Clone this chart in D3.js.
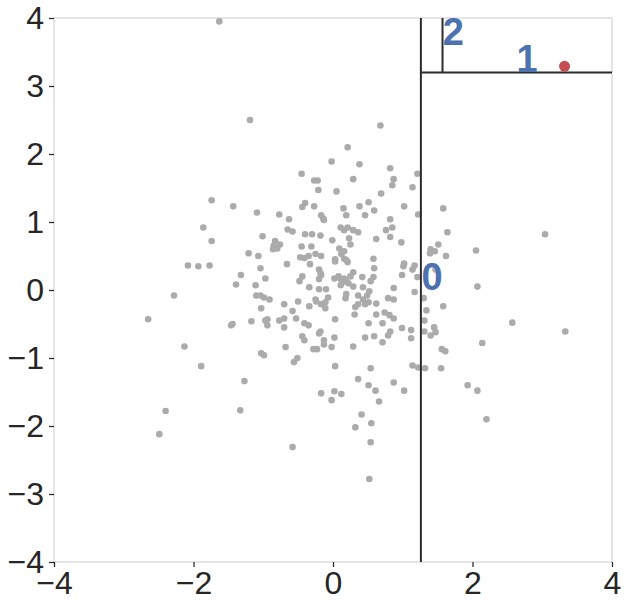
<!DOCTYPE html>
<html>
<head>
<meta charset="utf-8">
<script src="https://cdn.jsdelivr.net/npm/d3@7"></script>
<style>
  body { margin: 0; background: #fff; }
  text { font-family: "Liberation Sans", Arial, sans-serif; }
</style>
</head>
<body>
<div id="chart"></div>
<script>
// scattered sample points (x, y)
var points = [
  [-1.19,2.50],[-1.74,1.32],[-1.43,1.23],[-1.09,1.14],[-0.77,1.11],[-0.63,1.04],[-1.86,0.92],[-0.65,0.89],
  [-1.74,0.72],[-1.01,0.79],[-0.83,0.72],[-0.85,0.65],[-0.76,0.67],[-0.80,0.61],[-0.86,0.60],[-1.21,0.54],
  [-1.07,0.50],[0.68,2.42],[0.21,2.10],[-0.02,1.89],[0.38,1.85],[0.82,1.79],[-0.45,1.71],[1.21,1.71],
  [-0.27,1.61],[-0.22,1.61],[0.29,1.63],[0.87,1.63],[0.85,1.54],[-0.21,1.47],[0.05,1.45],[1.14,1.51],
  [0.69,1.42],[-0.40,1.28],[-0.44,1.22],[-0.27,1.23],[0.38,1.23],[0.51,1.29],[0.15,1.20],[0.59,1.17],
  [1.02,1.23],[-0.17,1.10],[-0.14,1.05],[-0.13,1.03],[0.19,1.10],[0.46,1.10],[1.22,1.11],[0.82,1.04],
  [-0.58,0.86],[0.11,0.92],[0.16,0.88],[0.21,0.92],[0.29,0.88],[0.36,0.85],[0.85,0.92],[0.76,0.88],
  [-0.40,0.82],[-0.30,0.82],[-0.18,0.80],[0.23,0.76],[-0.01,0.73],[0.62,0.75],[0.82,0.78],[0.98,0.70],
  [-0.45,0.64],[-0.31,0.64],[0.25,0.67],[0.09,0.61],[0.16,0.57],[0.12,0.53],[-0.47,0.48],[-0.35,0.50],
  [-0.25,0.53],[-0.17,0.50],[0.03,0.45],[0.16,0.46],[0.58,0.46],[1.40,0.60],[1.46,0.57],[1.39,0.54],
  [1.51,0.67],[-2.08,0.36],[-1.93,0.35],[-1.77,0.36],[-1.04,0.32],[-0.66,0.38],[-1.32,0.22],[-0.97,0.17],
  [-1.39,0.08],[-1.11,0.07],[-2.28,-0.08],[-1.10,-0.08],[-1.04,-0.08],[-0.99,-0.11],[-0.91,-0.14],[-0.70,-0.21],
  [-1.03,-0.27],[-2.65,-0.43],[-1.44,-0.50],[-1.46,-0.52],[-1.17,-0.46],[-0.97,-0.45],[-0.94,-0.43],[-0.94,-0.52],
  [-0.77,-0.45],[-0.70,-0.42],[-0.70,-0.55],[-2.13,-0.83],[-0.68,-0.84],[-1.03,-0.93],[-0.99,-0.96],[-1.89,-1.12],
  [-1.27,-1.34],[-2.40,-1.78],[-1.33,-1.77],[-2.49,-2.12],[-0.41,0.47],[-0.33,0.38],[0.03,0.42],[0.19,0.44],
  [0.21,0.41],[0.59,0.32],[-0.20,0.30],[-0.18,0.25],[-0.17,0.22],[-0.20,0.16],[-0.44,0.20],[-0.48,0.13],
  [0.02,0.17],[0.08,0.20],[0.11,0.16],[0.16,0.17],[0.13,0.11],[0.19,0.13],[0.22,0.10],[0.25,0.20],
  [0.29,0.26],[0.42,0.19],[0.54,0.13],[0.58,0.19],[0.29,0.05],[0.43,0.04],[-0.34,0.04],[-0.20,0.01],
  [-0.10,0.01],[0.11,0.07],[0.52,-0.02],[0.49,-0.08],[0.36,-0.08],[0.43,-0.14],[0.51,-0.18],[0.46,-0.21],
  [0.19,-0.06],[0.18,-0.12],[-0.07,-0.11],[-0.25,-0.14],[-0.24,-0.17],[-0.50,-0.17],[-0.17,-0.21],[-0.11,-0.18],
  [-0.11,-0.27],[-0.34,-0.24],[0.32,-0.25],[0.36,-0.21],[0.62,-0.20],[0.79,-0.12],[0.87,-0.14],[0.87,0.03],
  [1.17,-0.03],[-0.58,-0.31],[0.31,-0.36],[0.62,-0.36],[0.74,-0.33],[0.81,-0.37],[0.87,-0.42],[-0.53,-0.42],
  [0.03,-0.43],[-0.41,-0.49],[-0.35,-0.52],[0.51,-0.49],[0.71,-0.49],[0.99,-0.56],[1.12,-0.59],[1.12,-0.71],
  [0.82,-0.61],[0.79,-0.67],[-0.18,-0.61],[-0.20,-0.64],[0.59,-0.68],[0.46,-0.70],[0.71,-0.77],[-0.44,-0.68],
  [-0.41,-0.74],[0.02,-0.70],[-0.13,-0.74],[-0.13,-0.80],[-0.28,-0.87],[-0.23,-0.87],[-0.02,-0.84],[0.29,-0.83],
  [-0.51,-1.00],[-0.56,-1.06],[0.03,-1.12],[0.54,-1.15],[1.14,-1.11],[1.22,-1.14],[0.36,-1.31],[0.51,-1.40],
  [0.87,-1.36],[0.61,-1.48],[1.02,-1.48],[-0.17,-1.52],[0.02,-1.49],[0.12,-1.53],[-0.02,-1.62],[0.66,-1.64],
  [0.41,-1.83],[0.32,-2.02],[0.55,-1.96],[0.54,-2.24],[-0.58,-2.31],[1.58,1.20],[1.64,0.85],[3.04,0.82],
  [1.62,0.50],[2.05,0.58],[1.02,0.39],[1.01,0.35],[1.17,0.36],[1.14,0.30],[1.47,0.30],[0.99,0.22],
  [1.21,0.19],[2.07,0.05],[1.30,-0.12],[1.58,-0.24],[1.34,-0.30],[1.31,-0.45],[2.57,-0.48],[3.33,-0.61],
  [1.31,-0.61],[1.45,-0.55],[1.47,-0.62],[1.40,-0.67],[2.14,-0.78],[1.56,-0.87],[1.61,-0.90],[1.32,-1.15],
  [1.55,-1.15],[1.93,-1.40],[2.07,-1.48],[2.20,-1.90],[-1.63,3.95],[0.52,-2.78]
];

// query point
var query = [3.32, 3.29];

// kd-tree split lines: [x1, y1, x2, y2] in data units
var splitLines = [
  [1.26, -4, 1.26, 4],
  [1.26, 3.20, 4, 3.20],
  [1.57, 3.20, 1.57, 4]
];

// node labels
var nodeNames = ["0", "1", "2"];
var nodeX = [1.27, 2.63, 1.575];
var nodeY = [0.0, 3.20, 3.60];

var xTicks = [-4, -2, 0, 2, 4];
var yTicks = [-4, -3, -2, -1, 0, 1, 2, 3, 4];

var width = 627, height = 610;
var margin = {top: 18, right: 15, bottom: 48, left: 54};

var svg = d3.select("#chart").append("svg")
  .attr("width", width)
  .attr("height", height);

var x = d3.scaleLinear().domain([-4, 4]).range([margin.left, width - margin.right]);
var y = d3.scaleLinear().domain([-4, 4]).range([height - margin.bottom, margin.top]);

// frame
svg.append("rect")
  .attr("x", x(-4)).attr("y", y(4))
  .attr("width", x(4) - x(-4)).attr("height", y(-4) - y(4))
  .attr("fill", "none")
  .attr("stroke", "#cccccc")
  .attr("stroke-width", 1);

var fmt = function(d){ return d < 0 ? "\u2212" + Math.abs(d) : d; };

// axes
var xAxis = svg.append("g")
  .attr("transform", "translate(0," + y(-4) + ")")
  .call(d3.axisBottom(x).tickValues(xTicks).tickSize(5).tickPadding(4).tickFormat(fmt));
var yAxis = svg.append("g")
  .attr("transform", "translate(" + x(-4) + ",0)")
  .call(d3.axisLeft(y).tickValues(yTicks).tickSize(5).tickPadding(5).tickFormat(fmt));

[xAxis, yAxis].forEach(function(a){
  a.select(".domain").remove();
  a.selectAll(".tick line").attr("stroke", "#262626").attr("stroke-width", 1.25);
  a.selectAll(".tick text")
    .attr("fill", "#262626")
    .style("font-size", "32px")
    .style("font-family", "'Liberation Sans', Arial, sans-serif");
});

// points
svg.append("g").selectAll("circle")
  .data(points)
  .enter().append("circle")
  .attr("cx", function(d){ return x(d[0]); })
  .attr("cy", function(d){ return y(d[1]); })
  .attr("r", 3.3)
  .attr("fill", "#ababab");

// split lines
svg.append("g").selectAll("line")
  .data(splitLines)
  .enter().append("line")
  .attr("x1", function(d){ return x(d[0]); })
  .attr("y1", function(d){ return y(d[1]); })
  .attr("x2", function(d){ return x(d[2]); })
  .attr("y2", function(d){ return y(d[3]); })
  .attr("stroke", "#2b2b2b")
  .attr("stroke-width", 2);

// query point
svg.append("circle")
  .attr("cx", x(query[0]))
  .attr("cy", y(query[1]))
  .attr("r", 5.5)
  .attr("fill", "#c44e52");

// labels
svg.append("g").selectAll("text")
  .data(nodeNames)
  .enter().append("text")
  .attr("x", function(d, i){ return x(nodeX[i]); })
  .attr("y", function(d, i){ return y(nodeY[i]); })
  .attr("fill", "#4c72b0")
  .style("font-size", "38px")
  .style("font-weight", "bold")
  .text(function(d){ return d; });
</script>
</body>
</html>
